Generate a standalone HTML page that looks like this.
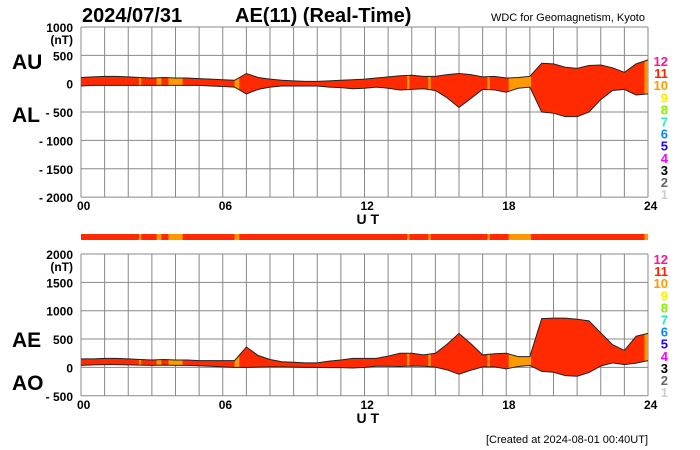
<!DOCTYPE html>
<html><head><meta charset="utf-8"><style>
body{margin:0;background:#fff;width:700px;height:450px;overflow:hidden;font-family:"Liberation Sans",sans-serif}
svg{display:block}
text{font-family:"Liberation Sans",sans-serif}
</style></head><body>
<svg id="c" width="700" height="450" xmlns="http://www.w3.org/2000/svg">
<text x="82" y="22" font-size="20" font-weight="bold">2024/07/31</text>
<text x="235" y="22" font-size="20" font-weight="bold">AE(11) (Real-Time)</text>
<text x="645" y="21" font-size="11" text-anchor="end">WDC for Geomagnetism, Kyoto</text>
<text x="12" y="69" font-size="21" font-weight="bold">AU</text>
<text x="12" y="122" font-size="21" font-weight="bold">AL</text>
<text x="12" y="347" font-size="21" font-weight="bold">AE</text>
<text x="12" y="390" font-size="21" font-weight="bold">AO</text>
<text x="648" y="443" font-size="11" text-anchor="end">[Created at 2024-08-01 00:40UT]</text>
</svg>
<script>
const hours=[0,0.5,1,1.5,2,2.5,3,3.5,4,4.5,5,5.5,6,6.5,7,7.5,8,8.5,9,9.5,10,10.5,11,11.5,12,12.5,13,13.5,14,14.5,15,15.5,16,16.5,17,17.5,18,18.5,19,19.5,20,20.5,21,21.5,22,22.5,23,23.5,24];
const auValues=[110,120,130,130,120,110,100,110,100,100,90,80,70,60,180,110,80,60,50,40,40,50,60,70,80,100,120,140,150,130,130,160,180,160,120,130,100,110,130,360,350,290,270,320,330,280,200,350,420];
const alValues=[-40,-30,-30,-30,-30,-30,-30,-30,-30,-30,-30,-40,-50,-60,-180,-100,-60,-40,-40,-40,-40,-60,-70,-90,-80,-60,-80,-110,-100,-90,-120,-250,-420,-260,-100,-110,-150,-80,-60,-500,-520,-580,-580,-500,-280,-120,-100,-200,-180];
const orangeStart=[2.45,3.2,3.7,6.5,13.8,14.7,17.2,18.1,23.85];
const orangeEnd=[2.55,3.4,4.3,6.7,13.9,14.8,17.3,19.05,24];
const topTicks=[1000,500,0,-500,-1000,-1500,-2000];
const botTicks=[2000,1500,1000,500,0,-500];
const xTickLabels=["00","06","12","18","24"];
const legendNums=["12","11","10","9","8","7","6","5","4","3","2","1"];
const legendColors=["#ff1493","#ff2200","#ff9900","#ffee00","#88ee00","#22eebb","#0088ff","#2200ff","#ff00ff","#000","#666","#ccc"];

const NS="http://www.w3.org/2000/svg",svg=document.getElementById('c');
const X0=81,X1=648,PX=56.7/1000;
const xs=h=>X0+(X1-X0)*h/24;
function mk(t,a,p){const e=document.createElementNS(NS,t);for(const k in a)e.setAttribute(k,a[k]);(p||svg).appendChild(e);return e;}
function txt(x,y,s,a){const e=mk('text',Object.assign({x:x,y:y},a));e.textContent=s;return e;}

function panel(id,top,maxV,minV,ticks,upper,lower,legTop){
  const ys=v=>top+(maxV-v)*PX, bot=ys(minV);
  const g=mk('g',{});
  
  
  for(let h=0;h<=24;h+=1){const l=mk('line',{x1:xs(h),x2:xs(h),y1:top,y2:bot,stroke:'#888','stroke-width':1},g);
    }
  ticks.forEach((v,i)=>{const l=mk('line',{x1:X0,x2:X1,y1:ys(v),y2:ys(v),stroke:'#888','stroke-width':1},g);
    
    const s=v<0?'- '+(-v):String(v);
    const t=txt(73,ys(v)+5,s,{'font-size':12,'font-weight':'bold','text-anchor':'end'});
    
    if(i===0){const u=txt(73,ys(v)+17,'(nT)',{'font-size':12,'font-weight':'bold','text-anchor':'end'});
      }
  });
  const up=hours.map((h,i)=>xs(h)+','+ys(upper[i]));
  const lo=hours.map((h,i)=>xs(h)+','+ys(lower[i])).reverse();
  const cp=mk('clipPath',{id:id+'clip'});mk('polygon',{points:up.concat(lo).join(' ')},cp);
  const f=mk('polygon',{points:up.concat(lo).join(' '),fill:'#ff2a00'},g);
  
  orangeStart.forEach((s,i)=>{const r=mk('rect',{x:xs(s),y:top,width:xs(orangeEnd[i])-xs(s),height:bot-top,fill:'#ff9900','clip-path':'url(#'+id+'clip)'},g);
    });
  const l1=mk('polyline',{points:up.join(' '),fill:'none',stroke:'#222','stroke-width':1},g);
  
  const l2=mk('polyline',{points:lo.join(' '),fill:'none',stroke:'#222','stroke-width':1},g);
  
  xTickLabels.forEach((s,i)=>{const t=txt(xs(i*6)-4,bot+13,s,{'font-size':12,'font-weight':'bold'});
    });
  const ut=txt(xs(12)-8,bot+27,'U T',{'font-size':14,'font-weight':'bold'});
  
  legendNums.forEach((s,i)=>{const t=txt(668,legTop+i*12.1,s,{'font-size':13,'font-weight':'bold','text-anchor':'end',fill:legendColors[i]});
    });
}
panel('au-al',27,1000,-2000,topTicks,auValues,alValues,66);
const aeValues=auValues.map((v,i)=>v-alValues[i]);
const aoValues=auValues.map((v,i)=>(v+alValues[i])/2);
panel('ae-ao',254,2000,-500,botTicks,aeValues,aoValues,264);
const bar=mk('rect',{x:X0,y:234,width:X1-X0,height:6,fill:'#ff2a00'});


orangeStart.forEach((s,i)=>{const r=mk('rect',{x:xs(s),y:234,width:xs(orangeEnd[i])-xs(s),height:6,fill:'#ff9900'});
  
  });
</script>
</body></html>
